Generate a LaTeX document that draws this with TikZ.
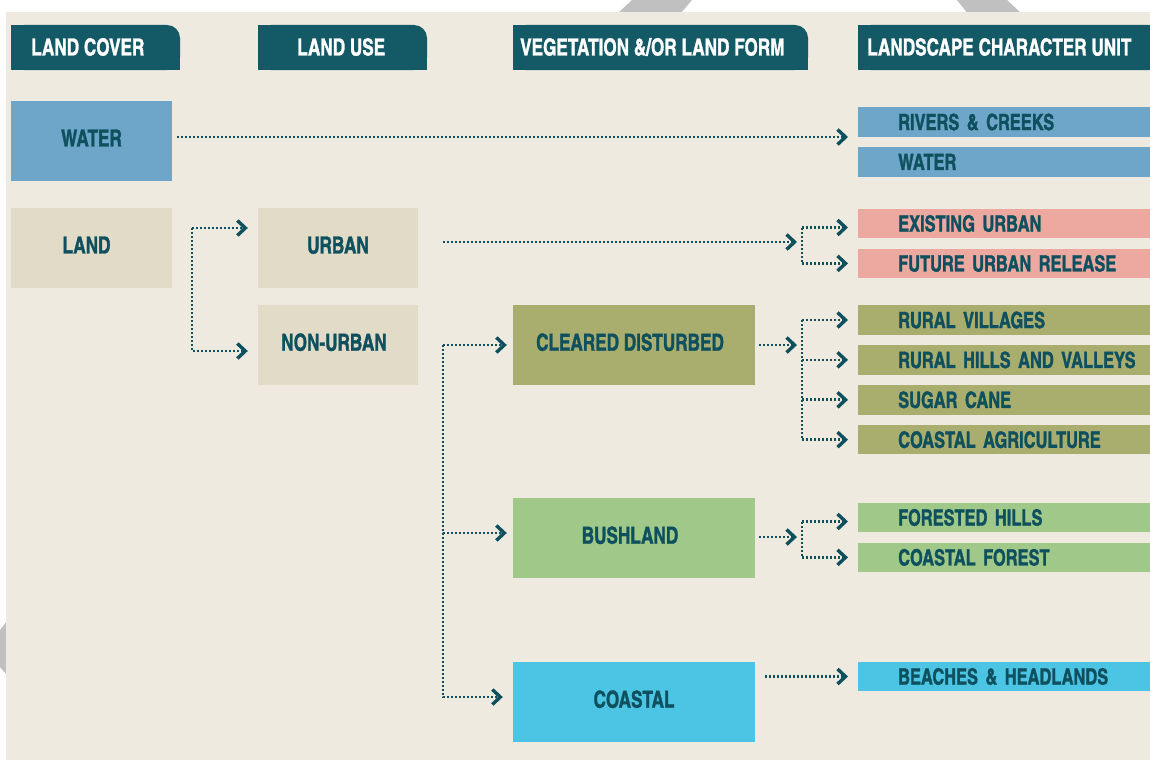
\documentclass[tikz,border=0pt]{standalone}
\usepackage{fontspec}
\newfontfamily\condfont{texgyreheroscn-bold}[Extension=.otf, FakeStretch=0.89, FakeBold=1.2]
\usetikzlibrary{positioning, arrows.meta}

\definecolor{paper}{HTML}{EEEADF}
\definecolor{tealhead}{HTML}{135A66}
\definecolor{tealtext}{HTML}{0E505E}
\definecolor{waterblue}{HTML}{6EA6C9}
\definecolor{landtan}{HTML}{E2DBC8}
\definecolor{urbanpink}{HTML}{EDA9A0}
\definecolor{clearolive}{HTML}{A9AD6E}
\definecolor{bushgreen}{HTML}{A0C888}
\definecolor{coastcyan}{HTML}{4CC4E4}
\definecolor{stripe}{HTML}{C0C0C0}

\tikzset{
  head/.style={text=white, anchor=west, inner sep=0pt, font=\condfont\fontsize{23.5}{26}\selectfont},
  block/.style={minimum height=80pt, inner sep=0pt, text depth=6pt, text=tealtext, font=\condfont\fontsize{23.5}{26}\selectfont},
  unit/.style={anchor=west, minimum height=29.5pt, text width=270pt, inner xsep=40pt, inner ysep=0pt, align=left, text=tealtext, font=\condfont\fontsize{22.5}{25}\selectfont},
  link/.style={draw=tealtext, line width=2.7pt, dash pattern=on 2pt off 2pt, shorten >=10pt, -{Straight Barb[length=8pt,width=15pt,line width=3.4pt]}}
}

\begin{document}
\begin{tikzpicture}[x=1pt, y=-1pt]
\useasboundingbox (0,0) rectangle (1150,760);
% page and the grey bands behind it
\fill[white] (0,0) rectangle (1150,760);
\fill[stripe] (632,0) -- (692,0) -- (680,14) -- (617,14) -- cycle;
\fill[stripe] (957,0) -- (1007,0) -- (1022,14) -- (968,14) -- cycle;
\fill[stripe] (0,630) -- (7,621) -- (7,675) -- (0,667) -- cycle;
\fill[paper] (6,12) rectangle (1150,760);

% header tabs
\foreach \xa/\xb in {11/180, 258/427, 513/808, 858/1162} {
  \fill[tealhead, rounded corners=13pt] (\xa,25) rectangle (\xb,70);
  \fill[tealhead] (\xa,25) rectangle ({\xb-15},70);
  \fill[tealhead] (\xa,40) rectangle (\xb,70);
}
\node[head] (hcover) at (31,47) {LAND COVER};
\node[head] (huse) at (297,47) {LAND USE};
\node[head] (hveg) at (520,47) {VEGETATION \&/OR LAND FORM};
\node[head] (hunit) at (867,47) {LANDSCAPE CHARACTER UNIT};

% land cover, land use, vegetation
\node[block, fill=waterblue, minimum width=161pt] (water) at (91.5,141) {WATER};
\node[block, fill=landtan, minimum width=161pt] (land) at (91.5,248) {\hspace*{-10pt}LAND};
\node[block, fill=landtan, minimum width=160pt] (urban) at (338,248) {URBAN};
\node[block, fill=landtan, minimum width=160pt] (nonurban) at (338,345) {\hspace*{-8pt}NON-URBAN};
\node[block, fill=clearolive, minimum width=242pt] (cleared) at (634,345) {\hspace*{-8pt}CLEARED DISTURBED};
\node[block, fill=bushgreen, minimum width=242pt] (bush) at (634,538) {\hspace*{-8pt}BUSHLAND};
\node[block, fill=coastcyan, minimum width=242pt] (coastal) at (634,702) {COASTAL};

% landscape character units
\node[unit, fill=waterblue] (rivers) at (858,122) {RIVERS \& CREEKS};
\node[unit, fill=waterblue, below=10pt of rivers] (waterunit) {WATER};
\node[unit, fill=urbanpink] (exurban) at (858,223.5) {EXISTING URBAN};
\node[unit, fill=urbanpink, below=10pt of exurban] (futurban) {FUTURE URBAN RELEASE};
\node[unit, fill=clearolive] (villages) at (858,320) {RURAL VILLAGES};
\node[unit, fill=clearolive, below=10pt of villages] (hills) {RURAL HILLS AND VALLEYS};
\node[unit, fill=clearolive, below=10pt of hills] (sugar) {SUGAR CANE};
\node[unit, fill=clearolive, below=10pt of sugar] (coastag) {COASTAL AGRICULTURE};
\node[unit, fill=bushgreen] (forest) at (858,517.5) {FORESTED HILLS};
\node[unit, fill=bushgreen, below=10pt of forest] (coastfor) {COASTAL FOREST};
\node[unit, fill=coastcyan] (beaches) at (858,676.5) {BEACHES \& HEADLANDS};

% forks
\coordinate (landfork) at (192,228);
\coordinate (urbanfork) at (802,242);
\coordinate (nonurbanfork) at (443,345);
\coordinate (clearedfork) at (802,345);
\coordinate (bushfork) at (802,537);
\path ([yshift=20pt]urban.west) coordinate (urbanin)
      ([yshift=-6pt]nonurban.west) coordinate (nonurbanin)
      ([yshift=-4pt]exurban.west) coordinate (exurbanin)
      ([yshift=-4pt]forest.west) coordinate (forestin);

\draw[link, shorten <=5pt] ([yshift=4pt]water.east) -- ([yshift=4pt]water.east -| rivers.west);
\draw[link] (landfork) -- (urbanin);
\draw[link] (landfork) |- (nonurbanin);
\draw[link, shorten <=25pt, shorten >=5pt] (urban.east |- urbanfork) -- (urbanfork);
\draw[link] (urbanfork |- exurbanin) -- (exurbanin);
\draw[link] (urbanfork |- exurbanin) |- (futurban.west);
\draw[link, shorten >=6pt] (nonurbanfork) -- (nonurbanfork -| cleared.west);
\draw[link, shorten >=6pt] (nonurbanfork) |- ([yshift=5pt]bush.west);
\draw[link] (nonurbanfork) |- ([yshift=5pt]coastal.west);
\draw[link, shorten <=4pt, shorten >=5pt] (cleared.east |- clearedfork) -- (clearedfork);
\draw[link] (clearedfork |- villages.west) -- (villages.west);
\draw[link] (clearedfork |- villages.west) |- (coastag.west);
\draw[link] (clearedfork |- hills.west) -- (hills.west);
\draw[link] (clearedfork |- sugar.west) -- (sugar.west);
\draw[link, shorten <=4pt, shorten >=5pt] (bush.east |- bushfork) -- (bushfork);
\draw[link] (bushfork |- forestin) -- (forestin);
\draw[link] (bushfork |- forestin) |- (coastfor.west);
\draw[link, shorten <=10pt] (coastal.east |- beaches.west) -- (beaches.west);
\end{tikzpicture}
\end{document}
